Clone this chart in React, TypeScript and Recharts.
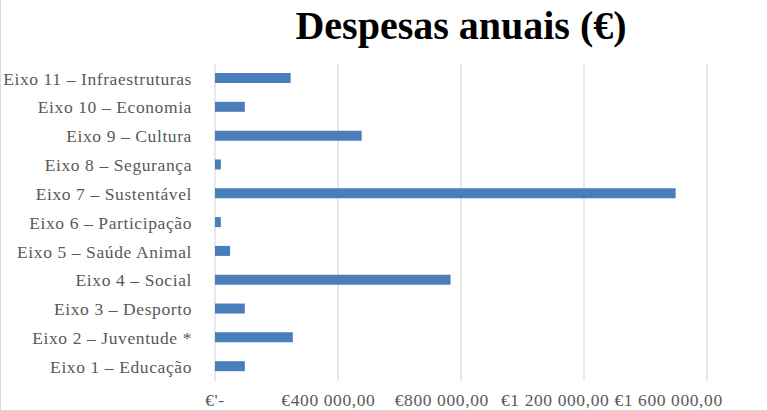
import { BarChart, Bar, XAxis, YAxis, CartesianGrid } from "recharts";

const CATEGORIES = [
  "Eixo 1 – Educação",
  "Eixo 2 – Juventude *",
  "Eixo 3 – Desporto",
  "Eixo 4 – Social",
  "Eixo 5 – Saúde Animal",
  "Eixo 6 – Participação",
  "Eixo 7 – Sustentável",
  "Eixo 8 – Segurança",
  "Eixo 9 – Cultura",
  "Eixo 10 – Economia",
  "Eixo 11 – Infraestruturas",
];

const DESPESAS = [97000, 253000, 97000, 766000, 49000, 19000, 1498000, 19000, 477000, 97000, 246000];

const X_TICKS = [0, 400000, 800000, 1200000, 1600000];
const X_TICK_LABELS = ["€'-", "€400 000,00", "€800 000,00", "€1 200 000,00", "€1 600 000,00"];

const FONT = "'Liberation Serif', 'Times New Roman', serif";
const TEXT = "#595959";

// Excel draws the categories top-down from the last one
const data = CATEGORIES.map((name, i) => ({ name, value: DESPESAS[i] })).reverse();

function XTick(props: any) {
  const { x, y, payload, index } = props;
  // excel squeezes the labels leftward so the last one fits
  const shift = -index * 9.6;
  return (
    <text
      x={x + shift}
      y={y}
      dy={25}
      textAnchor="middle"
      fill={TEXT}
      fontFamily={FONT}
      fontSize={17.5}
      letterSpacing={0.6}
    >
      {X_TICK_LABELS[X_TICKS.indexOf(payload.value)]}
    </text>
  );
}

export default function App() {
  return (
    <div style={{ position: "relative", width: 767, height: 411, background: "#fff" }}>
      <style>{"body{margin:0}"}</style>
      <div
        style={{
          position: "absolute",
          left: 215,
          width: 492,
          top: 6,
          textAlign: "center",
          fontFamily: FONT,
          fontWeight: "bold",
          fontSize: 40,
          lineHeight: "40px",
          color: "#000",
        }}
      >
        Despesas anuais (€)
      </div>
      <BarChart
        width={767}
        height={411}
        data={data}
        layout="vertical"
        margin={{ top: 64, right: 60, bottom: 0, left: 0 }}
        barCategoryGap={0}
      >
        <CartesianGrid horizontal={false} stroke="#d9d9d9" strokeWidth={1.2} />
        <XAxis
          type="number"
          domain={[0, 1600000]}
          ticks={X_TICKS}
          axisLine={false}
          tickLine={false}
          tickSize={0}
          tickMargin={0}
          height={30}
          interval={0}
          tick={<XTick />}
        />
        <YAxis
          type="category"
          dataKey="name"
          width={215}
          axisLine={false}
          tickLine={false}
          tickSize={0}
          tickMargin={23}
          interval={0}
          tick={{ fill: TEXT, fontFamily: FONT, fontSize: 17.5, letterSpacing: 0.6 }}
        />
        <Bar dataKey="value" fill="#4a7ebb" barSize={10} isAnimationActive={false} />
      </BarChart>
      <div
        style={{
          position: "absolute",
          left: 0,
          top: 0,
          width: 767,
          height: 411,
          boxSizing: "border-box",
          borderLeft: "1px solid #d9d9d9",
          borderBottom: "1px solid #d9d9d9",
          pointerEvents: "none",
        }}
      />
    </div>
  );
}
